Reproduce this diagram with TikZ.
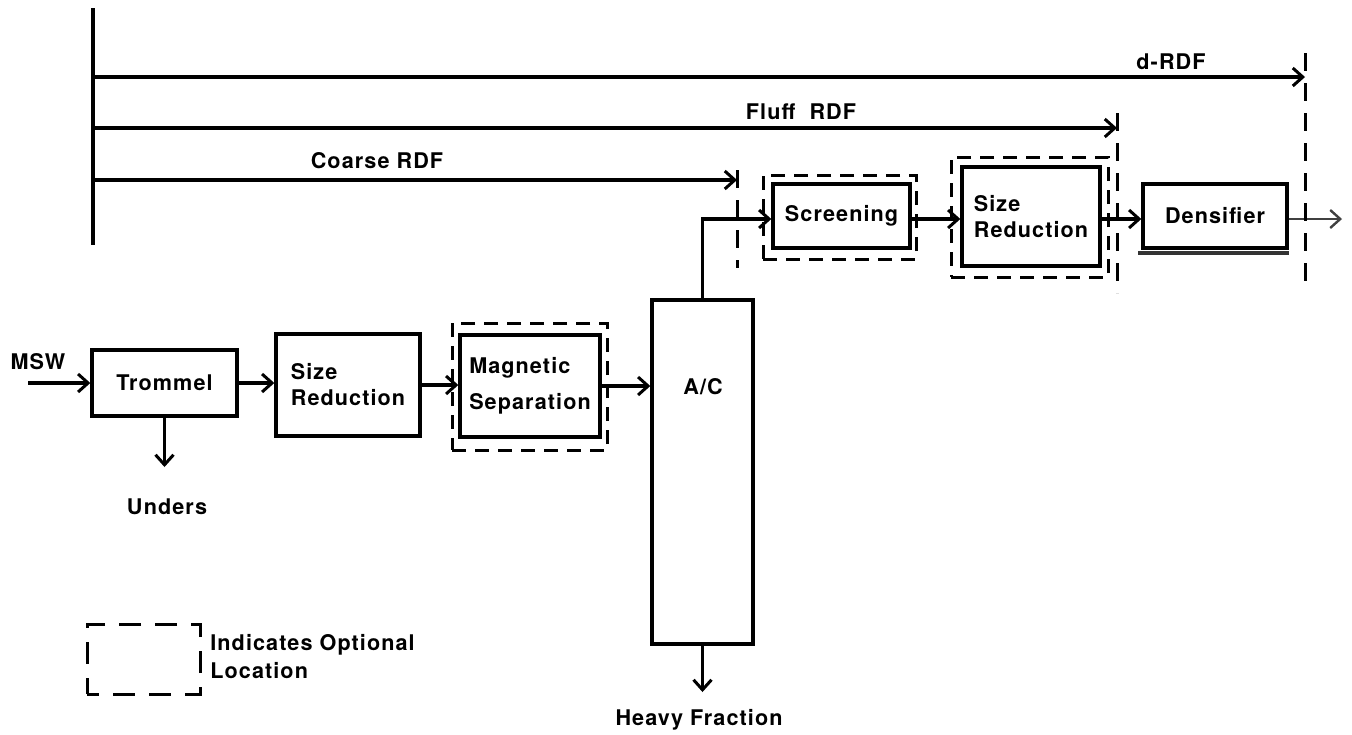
\documentclass[tikz,border=0pt]{standalone}
\usepackage{fontspec}
\setmainfont{TeX Gyre Heros}[LetterSpace=5]
\usetikzlibrary{arrows.meta}
\begin{document}
\begin{tikzpicture}[x=0.5pt,y=-0.5pt,
  every node/.style={font=\bfseries\fontsize{10.8}{13}\selectfont, inner sep=0pt},
  proc/.style={draw, line width=1.7pt},
  opt/.style={draw, line width=1.5pt, dash pattern=on 7pt off 4.5pt},
  legdash/.style={draw, line width=1.5pt, dash pattern=on 11pt off 7pt, dash phase=5pt},
  flow/.style={line width=1.7pt, -{Straight Barb[length=5pt,width=9pt,line width=1.5pt]}},
  outflow/.style={line width=1.3pt, draw=black!75, -{Straight Barb[length=5pt,width=9pt,line width=1.2pt]}},
  bus/.style={line width=1.7pt},
  cut/.style={line width=1.5pt, dash pattern=on 9pt off 6pt}
]
\useasboundingbox (0,0) rectangle (1352,734);

% process boxes
\node[proc, minimum width=72.5pt, minimum height=33pt] (trommel) at (164.5,383) {Trommel};
\node[proc, minimum width=72pt, minimum height=51pt, align=left] (sr1) at (348,385) {Size\\Reduction};
\node[opt, minimum width=77.5pt, minimum height=63.5pt] (magopt) at (529.5,386.5) {};
\node[proc, minimum width=70pt, minimum height=51pt, align=left] (mag) at (530,386) {Magnetic\\[5pt]Separation};
\node[proc, minimum width=50.5pt, minimum height=172pt] (ac) at (702.5,472) {};
\node (actext) at (703,387) {A/C};
\node[opt, minimum width=76.5pt, minimum height=42pt] (scropt) at (839.5,217) {};
\node[proc, minimum width=68.5pt, minimum height=32pt] (scr) at (841.5,216) {Screening};
\node[opt, minimum width=78.5pt, minimum height=60pt] (sr2opt) at (1029.5,217) {};
\node[proc, minimum width=69pt, minimum height=49.5pt, align=left] (sr2) at (1031,216.5) {Size\\Reduction};
\node[proc, minimum width=72pt, minimum height=32pt] (dens) at (1215,216) {Densifier};
\draw[line width=1.8pt, draw=black!80] ([xshift=-1.5pt,yshift=-1.6pt]dens.south west) -- ([yshift=-1.6pt]dens.south east);

% free ends
\coordinate (mswin) at (28,383);
\coordinate (undersend) at (164.5,467);
\coordinate (heavyend) at (702.5,692);
\coordinate (outend) at (1342,219);

% main flow
\draw[flow] (mswin) -- (mswin -| trommel.west);
\draw[flow] (trommel.south) -- (undersend);
\draw[flow] (trommel.east) -- (trommel.east -| sr1.west);
\draw[flow] (sr1.east) -- (sr1.east -| mag.west);
\draw[flow] (mag.east) -- (mag.east -| ac.west);
\draw[flow] (ac.north) |- ([yshift=-1.5pt]scr.west);
\draw[flow] ([yshift=-1.5pt]scr.east) -- ([yshift=-1.5pt]scr.east -| sr2.west);
\draw[flow] ([yshift=-1.5pt]scr.east -| sr2.east) -- ([yshift=-1.5pt]scr.east -| dens.west);
\draw[outflow] ([yshift=-1.5pt]dens.east) -- (outend);
\draw[flow] (ac.south) -- (heavyend);

% bypass bus
\coordinate (busTop) at (93,8);
\coordinate (busBot) at (93,245);
\coordinate (dStart) at (93,77);
\coordinate (dTip) at (1305,77);
\coordinate (fStart) at (93,128);
\coordinate (fTip) at (1117,128);
\coordinate (cStart) at (93,180);
\coordinate (cTip) at (737,180);
\draw[bus] (busTop) -- (busBot);
\draw[flow] (dStart) -- (dTip);
\draw[flow] (fStart) -- (fTip);
\draw[flow] (cStart) -- (cTip);

% optional location cut lines
\coordinate (dcutA) at (1305,53);
\coordinate (dcutB) at (1305,292);
\coordinate (fcutA) at (1117,113);
\coordinate (fcutB) at (1117,293);
\coordinate (ccutA) at (737,170);
\coordinate (ccutB) at (737,268);
\draw[cut] (dcutA) -- (dcutB);
\draw[cut] (fcutA) -- (fcutB);
\draw[cut] (ccutA) -- (ccutB);

% labels
\node (dlbl) at (1171,62) {d-RDF};
\node (flbl) at (801,112) {Fluff\ \ RDF};
\node (clbl) at (377,161) {Coarse RDF};
\node (msw) at (38,362) {MSW};
\node (unders) at (167,507) {Unders};
\node (heavy) at (699,720) {Heavy Fraction};

% legend
\node[legdash, minimum width=56.5pt, minimum height=35pt] (legbox) at (143.5,659) {};
\node[anchor=west, align=left] (legtext) at (210,657) {Indicates Optional\\[1pt]Location};
\end{tikzpicture}
\end{document}
